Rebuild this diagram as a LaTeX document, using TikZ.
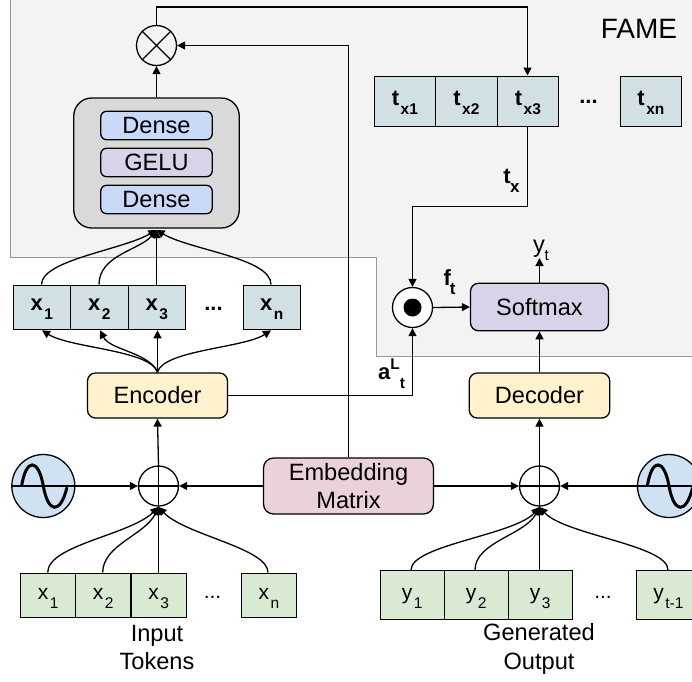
\documentclass[tikz,border=0pt]{standalone}
\usepackage{fontspec}
\setmainfont{Liberation Sans}
\usetikzlibrary{arrows.meta}
\definecolor{panel}{HTML}{F3F3F3}
\definecolor{panelb}{HTML}{999999}
\definecolor{teal1}{HTML}{D0E0E3}
\definecolor{green1}{HTML}{D9EAD3}
\definecolor{blue1}{HTML}{C9DAF8}
\definecolor{purp1}{HTML}{D9D2E9}
\definecolor{yel1}{HTML}{FFF2CC}
\definecolor{pink1}{HTML}{EAD1DC}
\definecolor{grey1}{HTML}{D9D9D9}
\definecolor{wave1}{HTML}{CFE2F3}
\tikzset{
  x=1pt,y=-1pt,
  line/.style={draw=black,line width=1.3pt},
  arr/.style={line,-{Triangle[length=8pt,width=8pt]}},
  cell/.style={line,rectangle,inner sep=0pt,anchor=north west,minimum height=#1},
  cellt/.style={cell=44.5pt,fill=teal1,text height=13pt,text depth=7pt,font=\fontsize{22}{22}\selectfont\bfseries},
  celltop/.style={cell=50pt,fill=teal1,minimum width=61.5pt,text height=16pt,text depth=7pt,font=\fontsize{22}{22}\selectfont\bfseries},
  cellg/.style={cell=44.5pt,fill=green1,text height=16pt,text depth=8pt,font=\fontsize{21}{21}\selectfont},
  cello/.style={cell=49pt,fill=green1,text height=16pt,text depth=7pt,font=\fontsize{21}{21}\selectfont},
  rbox/.style={line,rectangle,rounded corners=6pt,inner sep=0pt,font=\fontsize{23.6}{28.5}\selectfont,align=center},
  opc/.style={line,circle,inner sep=0pt,minimum size=40pt,fill=white},
  lbl/.style={inner sep=0pt,font=\fontsize{23.6}{28.5}\selectfont,align=center},
  blbl/.style={inner sep=0pt,font=\fontsize{22}{22}\selectfont\bfseries},
}
\newcommand{\sbs}[1]{\kern1.5pt\raisebox{-9pt}{\fontsize{15.5}{15.5}\selectfont #1}}
\begin{document}
\begin{tikzpicture}
\useasboundingbox (0,0) rectangle (692,681);
\fill[white] (0,0) rectangle (692,681);
% panel
\path[fill=panel,draw=panelb,line width=1.2pt] (10.5,-5) -- (10.5,257.5) -- (376.5,257.5) -- (376.5,356.5) -- (700,356.5) -- (700,-5) -- cycle;
\node[lbl,font=\fontsize{28}{28}\selectfont] (fame) at (639,28.5) {FAME};
% operators
\node[opc,fill=panel] (mul) at (156.5,45.5) {};
\draw[line] (mul.north west) -- (mul.south east) (mul.north east) -- (mul.south west);
\node[opc,fill=white] (dot) at (412.5,307.5) {};
\fill[black] (412.5,307.5) circle (9pt);
\node[opc,fill=white] (addl) at (158.5,486) {};
\node[opc,fill=white] (addr) at (539.5,486) {};
\draw[line] (addl.north) -- (addl.south) (addl.west) -- (addl.east);
\draw[line] (addr.north) -- (addr.south) (addr.west) -- (addr.east);
% MLP block
\node[rbox,fill=grey1,minimum width=165.5pt,minimum height=130pt,rounded corners=18pt] (mlp) at (156.5,163) {};
\node[rbox,fill=blue1,minimum width=111.5pt,minimum height=28.5pt] (d1) at (156.5,125.5) {Dense};
\node[rbox,fill=purp1,minimum width=111.5pt,minimum height=28.5pt] (gelu) at (156.5,162.5) {GELU};
\node[rbox,fill=blue1,minimum width=111.5pt,minimum height=28.5pt] (d2) at (156.5,199.5) {Dense};
% bold x cells
\node[cellt,minimum width=57.5pt] (bx1) at (12.5,284.5) {x\sbs{1}};
\node[cellt,minimum width=57.5pt] (bx2) at (70,284.5) {x\sbs{2}};
\node[cellt,minimum width=57.5pt] (bx3) at (127.5,284.5) {x\sbs{3}};
\node[blbl] (bdots) at (213.5,309) {...};
\node[cellt,minimum width=57pt] (bxn) at (242.5,284.5) {x\sbs{n}};
% t cells
\node[celltop] (t1) at (373.5,75.5) {t\sbs{x1}};
\node[celltop] (t2) at (435,75.5) {t\sbs{x2}};
\node[celltop] (t3) at (496.5,75.5) {t\sbs{x3}};
\node[blbl] (tdots) at (588.5,102) {...};
\node[celltop] (tn) at (619.5,75.5) {t\sbs{xn}};
% softmax etc
\node[rbox,fill=purp1,minimum width=138pt,minimum height=47.5pt,rounded corners=8pt] (soft) at (539.5,307) {Softmax};
\node[rbox,fill=yel1,minimum width=140pt,minimum height=45pt,rounded corners=8pt] (enc) at (157.5,395.5) {Encoder};
\node[rbox,fill=yel1,minimum width=140.5pt,minimum height=45pt,rounded corners=8pt] (dec) at (539.5,395.5) {Decoder};
\node[rbox,fill=pink1,minimum width=170pt,minimum height=56pt,rounded corners=10pt] (emb) at (348.5,486) {Embedding\\Matrix};
% waves
\foreach \n/\cx in {wl/43.3,wr/669}{
  \node[opc,fill=wave1,minimum size=63pt] (\n) at (\cx,486) {};
  \draw[line width=3pt,black,line cap=round] (\cx-21.5,485) .. controls (\cx-17,458) and (\cx-5,458) .. (\cx,486) .. controls (\cx+5,514) and (\cx+17,514) .. (\cx+23.5,488);
}
% input cells
\node[cellg,minimum width=55pt] (x1) at (20,572.5) {x\sbs{1}};
\node[cellg,minimum width=55pt] (x2) at (75,572.5) {x\sbs{2}};
\node[cellg,minimum width=55pt] (x3) at (130.5,572.5) {x\sbs{3}};
\node[lbl,font=\fontsize{21}{21}\selectfont] (xdots) at (212.5,597.5) {...};
\node[cellg,minimum width=55.5pt] (xn) at (240.5,572.5) {x\sbs{n}};
\node[lbl] (intok) at (157,647.5) {Input\\Tokens};
% output cells
\node[cello,minimum width=64pt] (y1) at (379.5,570) {y\sbs{1}};
\node[cello,minimum width=64pt] (y2) at (443.5,570) {y\sbs{2}};
\node[cello,minimum width=64pt] (y3) at (507.5,570) {y\sbs{3}};
\node[lbl,font=\fontsize{21}{21}\selectfont] (ydots) at (603,597.5) {...};
\node[cello,minimum width=64pt] (yn) at (635.7,570) {y\sbs{t-1}};
\node[lbl,font=\fontsize{23.6}{29.5}\selectfont] (genout) at (539,649) {Generated\\Output};
% connectors upper
\draw[arr] (mlp.north) -- (mul.south);
\coordinate (tc) at (527.5,7);
\draw[line] (mul.north) |- (tc);
\draw[arr] (tc) -- (t3.north -| tc);
\draw[arr] (emb.north) -- (348.5,45.5) -- (mul.east);
\coordinate (tj) at (527.5,206.5);
\draw[line] (t3.south -| tj) -- (tj);
\draw[arr] (tj) -| (dot.north);
\draw[arr] (dot.east) -- (soft.west);
\coordinate (ytop) at (539.5,258);
\draw[arr] (soft.north) -- (ytop);
\node[lbl,anchor=base] (yt) at (541,252) {y\kern-.5pt\raisebox{-8pt}{\fontsize{15.5}{15.5}\selectfont t}};
\node[blbl] (ft) at (449.5,282) {f\kern-1pt\raisebox{-9pt}{\fontsize{17}{17}\selectfont t}};
\node[blbl] (tx) at (511.5,180.5) {t\kern-.5pt\raisebox{-9pt}{\fontsize{17}{17}\selectfont x}};
\node[blbl,anchor=base west] (at) at (378,379) {a\raisebox{10pt}{\fontsize{15.5}{15.5}\selectfont L}\raisebox{-9pt}{\fontsize{15.5}{15.5}\selectfont t}};
\draw[arr] (enc.east) -| (dot.south);
\draw[arr] (dec.north) -- (soft.south);
\draw[arr] (addl.north) -- (enc.south);
\draw[arr] (addr.north) -- (dec.south);
\draw[arr] (emb.west) -- (addl.east);
\draw[arr] (emb.east) -- (addr.west);
\draw[arr] (wl.west) -- (addl.west);
\draw[arr] (wr.east) -- (addr.east);
% fans
\coordinate (mt) at (156.5,230);
\draw[arr] (bx1.north -| 41.5,0) .. controls (41.5,260) and (122,250) .. (mt);
\draw[arr] (bx2.north -| 99,0) .. controls (99,255) and (140,250) .. (mt);
\draw[arr] (bx3.north -| mt) -- (mt);
\draw[arr] (bxn.north -| 271,0) .. controls (271,258) and (190,250) .. (mt);
\coordinate (ej) at (157.5,372);
\draw[arr] (ej) .. controls (150,350) and (70,348) .. (bx1.south -| 42,0);
\draw[arr] (ej) .. controls (148,352) and (110,350) .. (bx2.south -| 100,0);
\draw[arr] (ej) -- (bx3.south -| ej);
\draw[arr] (ej) .. controls (164,350) and (244,348) .. (bxn.south -| 271,0);
\coordinate (al) at (158.5,507);
\draw[arr] (x1.north -| 47.7,0) .. controls (47.7,545) and (130,535) .. (al);
\draw[arr] (x2.north -| 102.7,0) .. controls (102.7,545) and (145,535) .. (al);
\draw[arr] (x3.north -| al) -- (al);
\draw[arr] (xn.north -| 268,0) .. controls (268,548) and (185,535) .. (al);
\coordinate (ar) at (539.5,507);
\draw[arr] (y1.north -| 411,0) .. controls (411,545) and (515,535) .. (ar);
\draw[arr] (y2.north -| 475,0) .. controls (475,542) and (525,535) .. (ar);
\draw[arr] (y3.north -| ar) -- (ar);
\draw[arr] (yn.north -| 668,0) .. controls (668,545) and (565,535) .. (ar);
\end{tikzpicture}
\end{document}
